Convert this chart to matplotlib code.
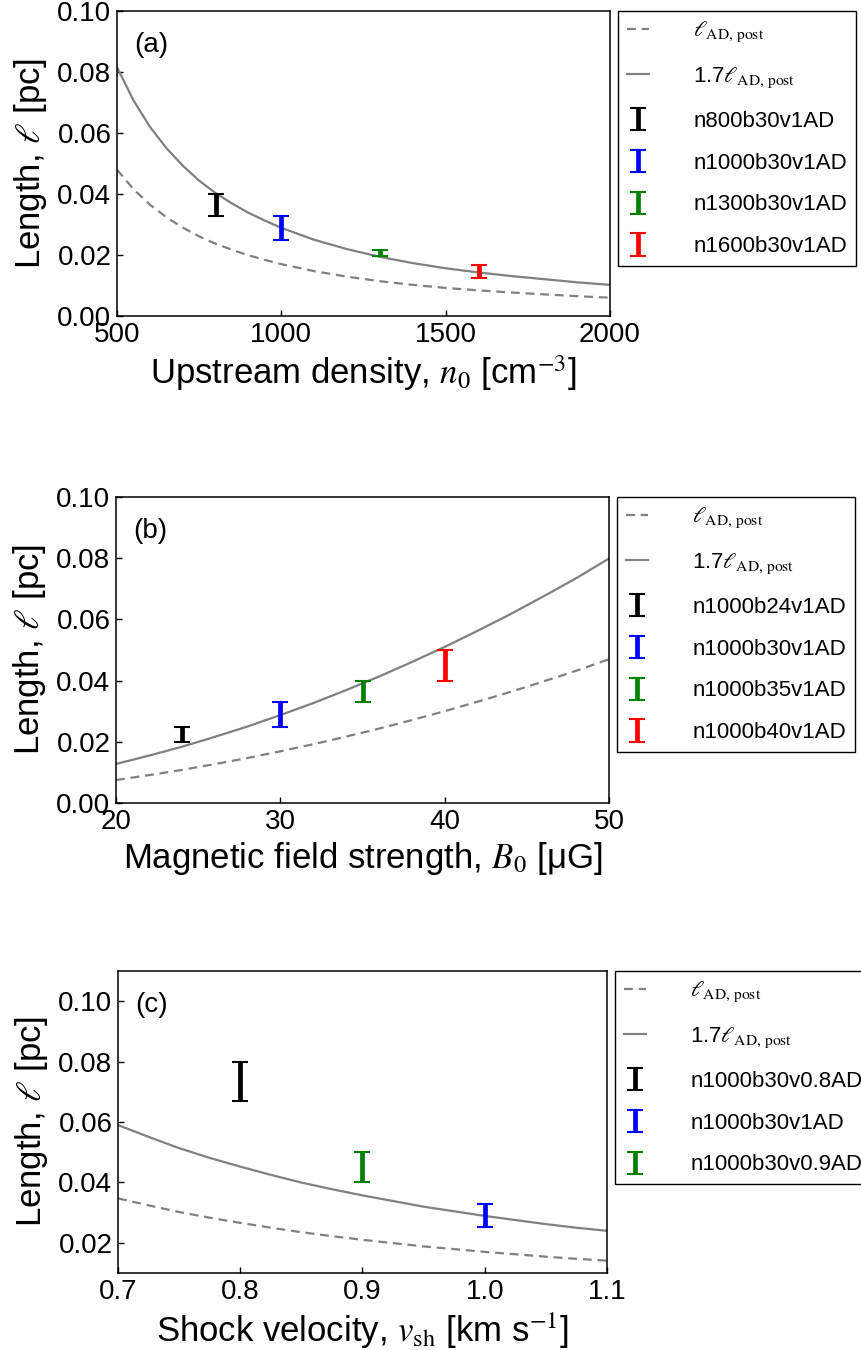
import matplotlib

matplotlib.use("Agg")

import matplotlib.pyplot as plt
from matplotlib.ticker import FormatStrFormatter

plt.rcParams["font.family"] = ["Liberation Sans", "DejaVu Sans"]
plt.rcParams["mathtext.fontset"] = "stix"

# --- panel (a): upstream density ---------------------------------------
n0_grid = [500, 550, 600, 650, 700, 750, 800, 850, 900, 950, 1000, 1100,
           1200, 1300, 1400, 1500, 1600, 1700, 1800, 1900, 2000]
lad_n0 = [0.0480, 0.0416, 0.0365, 0.0324, 0.0290, 0.0261, 0.0237, 0.0217,
          0.0199, 0.0184, 0.0170, 0.0147, 0.0129, 0.0114, 0.0102, 0.0092,
          0.0084, 0.0077, 0.0071, 0.0065, 0.0060]
runs_a = ["n800b30v1AD", "n1000b30v1AD", "n1300b30v1AD", "n1600b30v1AD"]
x_a = [800, 1000, 1300, 1600]
lo_a = [0.0327, 0.0249, 0.0196, 0.0124]
hi_a = [0.0399, 0.0329, 0.0218, 0.0166]

# --- panel (b): magnetic field -----------------------------------------
b0_grid = [20, 22, 24, 26, 28, 30, 32, 34, 36, 38, 40, 42, 44, 46, 48, 50]
lad_b0 = [0.0075, 0.0091, 0.0108, 0.0127, 0.0147, 0.0169, 0.0192, 0.0217,
          0.0243, 0.0271, 0.0300, 0.0331, 0.0363, 0.0397, 0.0432, 0.0470]
runs_b = ["n1000b24v1AD", "n1000b30v1AD", "n1000b35v1AD", "n1000b40v1AD"]
x_b = [24, 30, 35, 40]
lo_b = [0.0198, 0.0248, 0.0329, 0.0399]
hi_b = [0.0248, 0.0330, 0.0399, 0.0499]

# --- panel (c): shock velocity -----------------------------------------
vsh_grid = [0.700, 0.725, 0.750, 0.775, 0.800, 0.825, 0.850, 0.875, 0.900,
            0.925, 0.950, 0.975, 1.000, 1.025, 1.050, 1.075, 1.100]
lad_vsh = [0.0347, 0.0324, 0.0302, 0.0283, 0.0266, 0.0250, 0.0235, 0.0222,
           0.0210, 0.0199, 0.0188, 0.0179, 0.0170, 0.0162, 0.0154, 0.0147,
           0.0141]
runs_c = ["n1000b30v0.8AD", "n1000b30v1AD", "n1000b30v0.9AD"]
x_c = [0.8, 1.0, 0.9]
lo_c = [0.0670, 0.0253, 0.0400]
hi_c = [0.0800, 0.0330, 0.0501]

FACTOR = 1.7  # solid curve is 1.7 x l_AD,post (from the legend)
COLORS = ["k", "b", "g", "r"]

PANELS = [
    dict(tag="(a)", grid=n0_grid, lad=lad_n0, runs=runs_a, x=x_a, lo=lo_a, hi=hi_a,
         xlim=(500, 2000), ylim=(0.0, 0.10), xticks=[500, 1000, 1500, 2000],
         yticks=[0.0, 0.02, 0.04, 0.06, 0.08, 0.10], xfmt="%d",
         xlabel=r"Upstream density, $n_0$ [cm$^{-3}$]",
         rect=[117 / 862, 1 - 316 / 1350, 493 / 862, 305 / 1350]),
    dict(tag="(b)", grid=b0_grid, lad=lad_b0, runs=runs_b, x=x_b, lo=lo_b, hi=hi_b,
         xlim=(20, 50), ylim=(0.0, 0.10), xticks=[20, 30, 40, 50],
         yticks=[0.0, 0.02, 0.04, 0.06, 0.08, 0.10], xfmt="%d",
         xlabel="Magnetic field strength, $B_0$ [\u03bcG]",
         rect=[116 / 862, 1 - 803 / 1350, 493 / 862, 306 / 1350]),
    dict(tag="(c)", grid=vsh_grid, lad=lad_vsh, runs=runs_c, x=x_c, lo=lo_c, hi=hi_c,
         xlim=(0.7, 1.1), ylim=(0.01, 0.11), xticks=[0.7, 0.8, 0.9, 1.0, 1.1],
         yticks=[0.02, 0.04, 0.06, 0.08, 0.10], xfmt="%.1f",
         xlabel=r"Shock velocity, $v_{\rm sh}$ [km s$^{-1}$]",
         rect=[118 / 862, 1 - 1273 / 1350, 489 / 862, 302 / 1350]),
]


def draw_panel(fig, p):
    ax = fig.add_axes(p["rect"])
    ax.plot(p["grid"], p["lad"], color="gray", lw=1.6, ls=(0, (4, 2.6)),
            label=r"$\ell_{\rm AD,\,post}$")
    ax.plot(p["grid"], [FACTOR * v for v in p["lad"]], color="gray", lw=1.6,
            label=r"1.7$\ell_{\rm AD,\,post}$")
    for i, run in enumerate(p["runs"]):
        mid = 0.5 * (p["lo"][i] + p["hi"][i])
        half = 0.5 * (p["hi"][i] - p["lo"][i])
        ax.errorbar([p["x"][i]], [mid], yerr=[half], fmt="none",
                    ecolor=COLORS[i], elinewidth=3.4, capsize=6, capthick=1.5,
                    label=run)
    ax.set_xlim(*p["xlim"])
    ax.set_ylim(*p["ylim"])
    ax.set_xticks(p["xticks"])
    ax.set_yticks(p["yticks"])
    ax.xaxis.set_major_formatter(FormatStrFormatter(p["xfmt"]))
    ax.yaxis.set_major_formatter(FormatStrFormatter("%.2f"))
    ax.tick_params(direction="in", length=4, width=1, labelsize=20, pad=4)
    for s in ax.spines.values():
        s.set_linewidth(1.1)
    ax.set_xlabel(p["xlabel"], fontsize=25, labelpad=4)
    ax.set_ylabel(r"Length, $\ell$ [pc]", fontsize=25, labelpad=6)
    ax.text(0.035, 0.93, p["tag"], transform=ax.transAxes, fontsize=20,
            ha="left", va="top")
    leg = ax.legend(loc="upper left", bbox_to_anchor=(1.016, 1.0),
                    borderaxespad=0.0, fontsize=16, frameon=True, fancybox=False,
                    framealpha=1.0, edgecolor="black", handlelength=1.0,
                    handletextpad=2.0, labelspacing=0.94, borderpad=0.4)
    leg.get_frame().set_linewidth(1.0)
    return ax


fig = plt.figure(figsize=(8.62, 13.5), dpi=100)
for p in PANELS:
    draw_panel(fig, p)

fig.savefig("out.png", dpi=100)
plt.close(fig)
